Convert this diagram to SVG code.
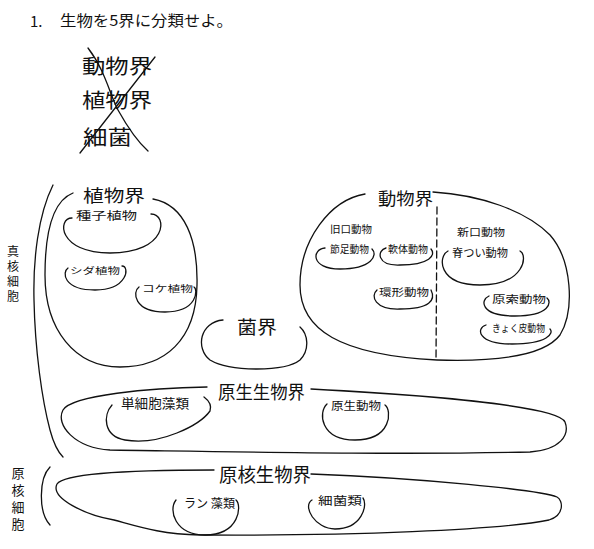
<svg xmlns="http://www.w3.org/2000/svg" width="594" height="549" viewBox="0 0 594 549">
<style>
.s{fill:none;stroke:#111;stroke-width:1.3;stroke-linecap:round;stroke-linejoin:round}
.d{stroke-dasharray:7 4}
text{font-family:"Noto Sans CJK JP","Noto Sans",sans-serif;fill:#111;dominant-baseline:central}
.v{writing-mode:vertical-rl}
</style>
<rect width="594" height="549" fill="#fff"/>
<g id="title">
<text x="30" y="20" font-size="15">1.</text>
<text x="60" y="19" font-size="15" textLength="173" lengthAdjust="spacingAndGlyphs">生物を5界に分類せよ。</text>
</g>
<g id="crossed">
<text x="82" y="65" font-size="20" textLength="70" lengthAdjust="spacingAndGlyphs">動物界</text>
<text x="82" y="99" font-size="20" textLength="70" lengthAdjust="spacingAndGlyphs">植物界</text>
<text x="83" y="136" font-size="20" textLength="49" lengthAdjust="spacingAndGlyphs">細菌</text>
<path class="s" d="M88,48 C105,70 110,95 118,110 C128,128 138,142 148,151"/>
<path class="s" d="M155,57 L80,153"/>
</g>
<g id="eukaryote">
<path class="s" d="M53,185 C38,215 33,260 34,300 C35,350 42,400 50,430 C54,445 58,452 63,457"/>
<text class="v" x="13" y="245" font-size="12" letter-spacing="3">真核細胞</text>
</g>
<g id="prokaryote">
<path class="s" d="M50,467 C39,478 38,512 50,525"/>
<text class="v" x="18" y="467" font-size="13" letter-spacing="4">原核細胞</text>
</g>
<g id="plantae">
<path class="s" d="M153,199 C185,205 198,240 197,285 C196,340 165,367 120,367 C75,367 45,330 45,275 C45,225 55,200 73,193"/>
<text x="83" y="194" font-size="17" textLength="62" lengthAdjust="spacingAndGlyphs">植物界</text>
</g>
<g id="seed-plants">
<path class="s" d="M72,218 C57,218 58,253 110,253 C168,253 168,214 151,214"/>
<text x="76" y="215" font-size="11" textLength="61" lengthAdjust="spacingAndGlyphs">種子植物</text>
</g>
<g id="ferns">
<path class="s" d="M68,268 C62,272 63,290 95,290 C128,290 130,266 122,266"/>
<text x="70" y="270" font-size="9" textLength="50" lengthAdjust="spacingAndGlyphs">シダ植物</text>
</g>
<g id="mosses">
<path class="s" d="M139,287 C132,292 134,312 165,312 C198,312 198,289 194,287"/>
<text x="142" y="288" font-size="9" textLength="51" lengthAdjust="spacingAndGlyphs">コケ植物</text>
</g>
<g id="fungi">
<path class="s" d="M223,320 C200,322 195,348 210,360 C230,372 285,372 300,360 C310,350 308,334 300,327"/>
<text x="237" y="326" font-size="18" textLength="40" lengthAdjust="spacingAndGlyphs">菌界</text>
</g>
<g id="animalia">
<path class="s" d="M365,194 C330,200 300,240 300,285 C300,330 340,355 437,360 C500,362 545,355 560,335 C575,310 572,260 550,235 C525,210 480,195 433,192"/>
<path class="s d" d="M437,207 L436,360"/>
<text x="378" y="197" font-size="17" textLength="55" lengthAdjust="spacingAndGlyphs">動物界</text>
<text x="330" y="228" font-size="10" textLength="42" lengthAdjust="spacingAndGlyphs">旧口動物</text>
<text x="457" y="231" font-size="10" textLength="48" lengthAdjust="spacingAndGlyphs">新口動物</text>
</g>
<g id="arthropods">
<path class="s" d="M325,248 C312,249 310,269 340,269 C372,269 378,255 372,249"/>
<text x="330" y="248" font-size="10" textLength="39" lengthAdjust="spacingAndGlyphs">節足動物</text>
</g>
<g id="molluscs">
<path class="s" d="M386,248 C377,250 376,266 400,265 C430,265 436,255 431,249"/>
<text x="388" y="248" font-size="10" textLength="40" lengthAdjust="spacingAndGlyphs">軟体動物</text>
</g>
<g id="annelids">
<path class="s" d="M377,290 C370,296 375,310 400,309 C430,309 436,300 431,290"/>
<text x="379" y="291" font-size="10" textLength="50" lengthAdjust="spacingAndGlyphs">環形動物</text>
</g>
<g id="vertebrates">
<path class="s" d="M448,251 C438,256 437,285 480,285 C525,285 528,255 520,251"/>
<text x="452" y="252" font-size="11" textLength="56" lengthAdjust="spacingAndGlyphs">脊つい動物</text>
</g>
<g id="protochordates">
<path class="s" d="M489,296 C480,300 480,316 515,316 C550,316 552,302 547,298"/>
<text x="492" y="298" font-size="10" textLength="54" lengthAdjust="spacingAndGlyphs">原索動物</text>
</g>
<g id="echinoderms">
<path class="s" d="M486,325 C476,328 477,344 512,344 C548,344 554,333 550,329"/>
<text x="492" y="327" font-size="10" textLength="53" lengthAdjust="spacingAndGlyphs">きょく皮動物</text>
</g>
<g id="protista">
<path class="s" d="M207,387 C150,388 72,395 63,410 C55,425 75,448 110,450 C250,452 400,455 530,452 C560,450 570,435 565,422 C560,410 480,398 311,389"/>
<text x="218" y="391" font-size="18" textLength="87" lengthAdjust="spacingAndGlyphs">原生生物界</text>
</g>
<g id="unicellular-algae">
<path class="s" d="M112,405 C103,415 103,436 125,440 C160,446 200,425 210,411 C212,405 208,400 204,397"/>
<text x="121" y="402" font-size="13" textLength="68" lengthAdjust="spacingAndGlyphs">単細胞藻類</text>
</g>
<g id="protozoa">
<path class="s" d="M327,404 C318,412 320,440 355,440 C392,440 392,410 385,405"/>
<text x="331" y="405" font-size="11" textLength="50" lengthAdjust="spacingAndGlyphs">原生動物</text>
</g>
<g id="monera">
<path class="s" d="M214,470 C150,470 65,472 57,484 C50,498 85,515 114,520 C140,527 160,534 200,535 C350,536 500,530 549,520 C565,515 563,500 557,497 C540,490 420,478 311,474"/>
<text x="219" y="473" font-size="19" textLength="92" lengthAdjust="spacingAndGlyphs">原核生物界</text>
</g>
<g id="cyanobacteria">
<path class="s" d="M176,500 C168,510 175,535 205,535 C240,535 242,505 236,500"/>
<text x="184" y="502" font-size="12" textLength="51" lengthAdjust="spacingAndGlyphs">ラン 藻類</text>
</g>
<g id="bacteria">
<path class="s" d="M312,500 C302,506 315,529 335,529 C362,529 368,505 363,498"/>
<text x="318" y="500" font-size="11" textLength="44" lengthAdjust="spacingAndGlyphs">細菌類</text>
</g>
</svg>
